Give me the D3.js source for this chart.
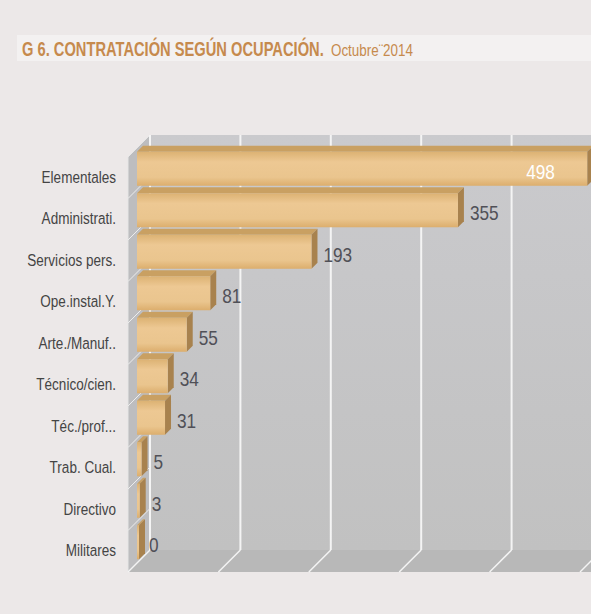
<!DOCTYPE html>
<html>
<head>
<meta charset="utf-8">
<script src="https://cdn.jsdelivr.net/npm/d3@7"></script>
<style>
  body { margin: 0; background: #ece8e8; }
  svg { display: block; }
</style>
</head>
<body>
<div id="chart"></div>
<script>
const categories = ["Elementales", "Administrati.", "Servicios pers.", "Ope.instal.Y.", "Arte./Manuf..",
  "Técnico/cien.", "Téc./prof...", "Trab. Cual.", "Directivo", "Militares"]
const values = [498, 355, 193, 81, 55, 34, 31, 5, 3, 0]
const ticks = [0, 100, 200, 300, 400, 500]

const width = 591, height = 614
const DEPTH = 22      // 3d offset of the back wall
const BAR_D = 9       // bars sit a little behind the front plane
const BAR_TOP = 6     // visible depth of each bar
const FONT = "'Liberation Sans', Arial, sans-serif"
const NARROW = 0.82   // fake arial narrow

const svg = d3.select("#chart").append("svg").attr("width", width).attr("height", height)
const defs = svg.append("defs")

// page + title strip
svg.append("rect").attr("width", width).attr("height", height).attr("fill", "#ece8e8")
svg.append("rect").attr("x", 17).attr("y", 35).attr("width", width - 17).attr("height", 26).attr("fill", "#f3f1f1")

// squeeze a text horizontally to a given width
function fitWidth(sel, x0, y0, w) {
  const len = sel.node().getComputedTextLength()
  sel.attr("transform", `translate(${x0},${y0}) scale(${w / len},1)`)
}
const t1 = svg.append("text")
  .attr("font-family", FONT).attr("font-weight", "bold").attr("font-size", "19.5px")
  .attr("fill", "#c68a4d")
  .text("G 6. CONTRATACIÓN  SEGÚN OCUPACIÓN.")
fitWidth(t1, 22, 56, 302)
const t2 = svg.append("text")
  .attr("font-family", FONT).attr("font-size", "17px")
  .attr("fill", "#c68a4d")
  .text("Octubre¨2014")
fitWidth(t2, 331, 56, 82)

// scales (front plane)
const x = d3.scaleLinear().domain([0, 500]).range([128, 580])
const y = d3.scaleBand().domain(categories).range([157, 572]).paddingInner(0.18).paddingOuter(0.09)
const plotTop = 157, plotBottom = 572

// gradients
let g1 = defs.append("linearGradient").attr("id", "wall").attr("x1", 0).attr("y1", 0).attr("x2", 0).attr("y2", 1)
g1.append("stop").attr("offset", "0%").attr("stop-color", "#cacacd")
g1.append("stop").attr("offset", "100%").attr("stop-color", "#c1c1c1")

let g2 = defs.append("linearGradient").attr("id", "bar").attr("x1", 0).attr("y1", 0).attr("x2", 0).attr("y2", 1)
g2.append("stop").attr("offset", "0%").attr("stop-color", "#dcb273")
g2.append("stop").attr("offset", "30%").attr("stop-color", "#edc893")
g2.append("stop").attr("offset", "75%").attr("stop-color", "#eac58e")
g2.append("stop").attr("offset", "100%").attr("stop-color", "#dcae6d")

// back wall
svg.append("rect").attr("x", x(0) + DEPTH).attr("y", plotTop - DEPTH)
  .attr("width", width - x(0) - DEPTH).attr("height", plotBottom - plotTop)
  .attr("fill", "url(#wall)")
// left wall
svg.append("path")
  .attr("d", `M${x(0)},${plotBottom} L${x(0)},${plotTop} L${x(0) + DEPTH},${plotTop - DEPTH} L${x(0) + DEPTH},${plotBottom - DEPTH} Z`)
  .attr("fill", "#bdbdbf").attr("stroke", "#e6e6e6").attr("stroke-width", 1)
// floor
svg.append("path")
  .attr("d", `M${x(0)},${plotBottom} L${x(0) + DEPTH},${plotBottom - DEPTH} L${width},${plotBottom - DEPTH} L${width},${plotBottom} Z`)
  .attr("fill", "#b8b8b8")

// gridlines: back wall verticals and floor diagonals
svg.append("g").selectAll("line").data(ticks).join("line")
  .attr("x1", d => x(d) + DEPTH).attr("x2", d => x(d) + DEPTH)
  .attr("y1", plotTop - DEPTH).attr("y2", plotBottom - DEPTH)
  .attr("stroke", "#f4f4f4").attr("stroke-width", 2)
svg.append("g").selectAll("line").data(ticks).join("line")
  .attr("x1", d => x(d) + DEPTH).attr("x2", d => x(d))
  .attr("y1", plotBottom - DEPTH).attr("y2", plotBottom)
  .attr("stroke", "#f4f4f4").attr("stroke-width", 1.5)
// category ticks on the left wall
svg.append("g").selectAll("line").data(categories.slice(1)).join("line")
  .attr("x1", x(0)).attr("x2", x(0) + DEPTH)
  .attr("y1", d => y(d) - y.step() * y.paddingInner() / 2)
  .attr("y2", d => y(d) - y.step() * y.paddingInner() / 2 - DEPTH)
  .attr("stroke", "#ececec").attr("stroke-width", 1)

// bars
const bars = svg.append("g").selectAll("g").data(categories).join("g")
bars.each(function (c, i) {
  const g = d3.select(this)
  const x0 = x(0) + BAR_D, x1 = x(values[i]) + BAR_D
  const y0 = y(c) - BAR_D, h = y.bandwidth()
  const w = Math.max(x1 - x0, 2)
  // top face
  g.append("path")
    .attr("d", `M${x0},${y0} L${x0 + BAR_TOP},${y0 - BAR_TOP} L${x0 + w + BAR_TOP},${y0 - BAR_TOP} L${x0 + w},${y0} Z`)
    .attr("fill", "#c9a062")
  // right face
  g.append("path")
    .attr("d", `M${x0 + w},${y0} L${x0 + w + BAR_TOP},${y0 - BAR_TOP} L${x0 + w + BAR_TOP},${y0 + h - BAR_TOP} L${x0 + w},${y0 + h} Z`)
    .attr("fill", "#a8824e")
  // front face
  g.append("rect").attr("x", x0).attr("y", y0).attr("width", w).attr("height", h)
    .attr("fill", "url(#bar)")
})

// value labels
svg.append("g").selectAll("text").data(values).join("text")
  .attr("transform", (d, i) => {
    const tx = i === 0 ? x(d) - 52 : x(d) + BAR_D + 12
    const ty = y(categories[i]) + y.bandwidth() / 2 + 1
    return `translate(${tx},${ty}) scale(${NARROW},1)`
  })
  .attr("font-family", FONT)
  .attr("font-size", "21px")
  .attr("fill", (d, i) => i === 0 ? "#ffffff" : "#505057")
  .text(d => d)

// category labels
svg.append("g").selectAll("text").data(categories).join("text")
  .attr("transform", d => `translate(116,${y(d) + y.bandwidth() / 2 + 5}) scale(${NARROW},1)`)
  .attr("text-anchor", "end")
  .attr("font-family", FONT)
  .attr("font-size", "16.5px")
  .attr("fill", "#444")
  .text(d => d)
</script>
</body>
</html>
